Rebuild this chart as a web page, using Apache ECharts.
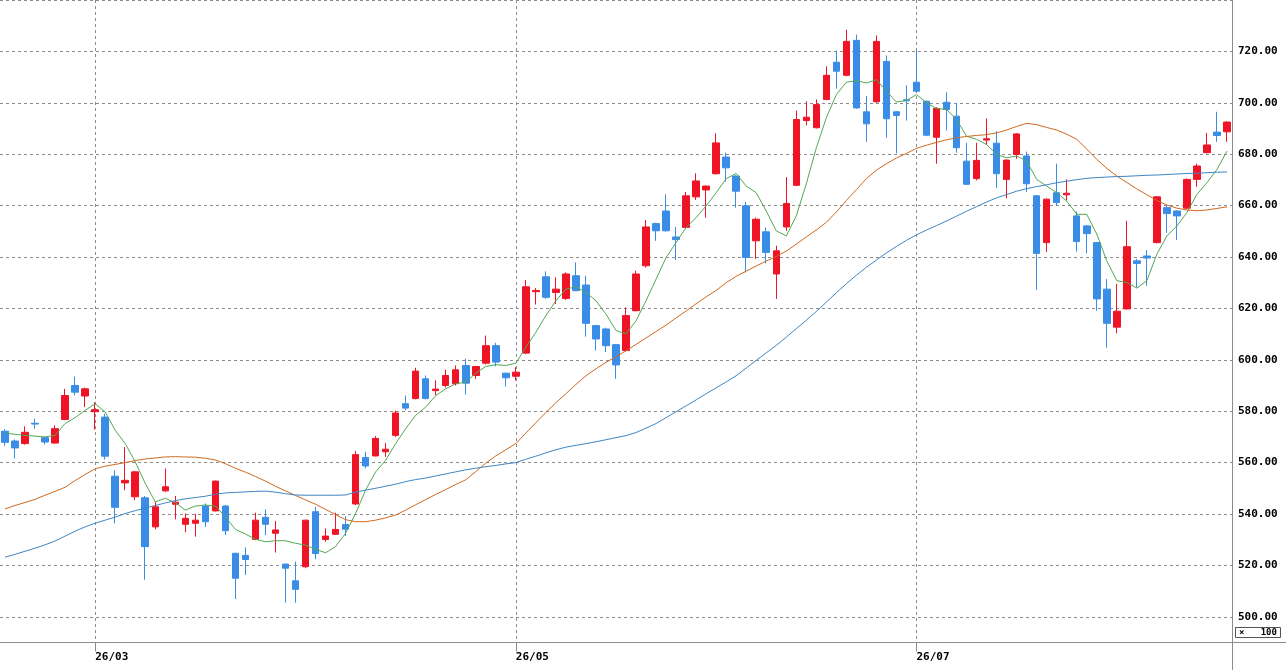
<!DOCTYPE html>
<html>
<head>
<meta charset="utf-8">
<title>日足チャート</title>
<script src="https://cdn.jsdelivr.net/npm/echarts@6/dist/echarts.min.js"></script>
<style>
html, body { margin: 0; padding: 0; background: #fff; }
#main { width: 1286px; height: 670px; }
</style>
</head>
<body>
<div id="main"></div>
<script>
// 日足 (始値・終値・安値・高値)
var openPrices = [
	572.2, 568.4, 567.4, 575.3, 569.7, 567.6, 576.8, 590.0, 585.9, 579.8,
	577.7, 554.7, 552.1, 546.7, 546.3, 535.0, 549.0, 543.8, 536.0, 536.4,
	543.1, 541.2, 543.1, 524.7, 523.9, 530.1, 538.7, 532.5, 520.5, 514.0,
	519.5, 540.9, 530.1, 532.1, 535.9, 543.9, 562.0, 562.6, 564.2, 570.6,
	582.9, 584.9, 592.6, 588.0, 590.0, 590.7, 597.8, 593.9, 598.7, 605.5,
	594.8, 593.6, 602.6, 626.5, 632.3, 626.2, 623.9, 632.7, 629.1, 613.3,
	612.0, 605.9, 603.6, 619.1, 636.6, 653.0, 657.9, 647.8, 651.5, 663.4,
	666.1, 672.4, 678.9, 671.5, 659.9, 646.3, 649.8, 633.4, 651.7, 667.9,
	693.1, 690.3, 701.3, 715.8, 710.7, 724.3, 696.5, 700.4, 716.1, 696.5,
	701.2, 708.0, 700.6, 686.6, 700.2, 694.8, 677.3, 670.5, 685.5, 684.3,
	670.2, 679.9, 679.3, 663.8, 645.6, 665.0, 664.2, 656.0, 652.1, 645.6,
	627.5, 612.7, 619.8, 638.5, 640.4, 645.6, 659.2, 657.9, 659.0, 670.2,
	680.6, 688.6, 688.7
];
var closePrices = [
	567.9, 565.7, 571.8, 575.0, 568.0, 573.2, 586.1, 587.4, 588.7, 580.6,
	562.5, 542.6, 553.1, 556.4, 527.3, 542.8, 550.6, 544.6, 538.3, 537.6,
	537.0, 552.8, 533.5, 515.0, 522.3, 537.6, 536.0, 533.8, 518.9, 510.7,
	537.6, 524.6, 531.4, 534.0, 534.1, 563.1, 558.7, 569.4, 565.2, 579.3,
	581.2, 595.6, 584.9, 588.6, 593.9, 596.1, 590.9, 597.4, 605.5, 599.1,
	593.0, 595.2, 628.4, 627.0, 624.3, 627.5, 633.4, 626.9, 614.2, 608.1,
	605.5, 598.0, 617.2, 633.4, 651.7, 650.2, 650.2, 646.8, 663.8, 669.6,
	667.6, 684.4, 674.7, 665.6, 639.8, 654.7, 641.8, 642.4, 660.8, 693.5,
	694.4, 699.3, 710.7, 712.3, 723.9, 698.0, 691.8, 723.9, 693.8, 695.1,
	700.8, 704.5, 687.4, 697.8, 697.4, 682.5, 668.3, 677.6, 686.0, 672.4,
	677.7, 687.9, 668.5, 641.4, 662.5, 661.2, 664.8, 646.0, 649.1, 623.7,
	614.2, 618.9, 644.0, 637.5, 639.6, 663.4, 656.9, 656.0, 670.2, 675.4,
	683.6, 687.3, 692.5
];
var lowPrices = [
	566.5, 561.6, 567.0, 573.2, 567.0, 567.4, 576.5, 586.1, 581.6, 572.8,
	561.2, 536.4, 549.3, 545.4, 514.4, 534.0, 548.6, 537.9, 532.9, 531.2,
	535.0, 541.0, 531.8, 506.9, 516.3, 529.8, 531.8, 525.0, 505.5, 505.5,
	518.9, 522.4, 529.2, 531.8, 531.4, 543.5, 557.7, 562.4, 562.2, 570.0,
	580.3, 584.6, 584.6, 586.1, 589.2, 590.0, 586.5, 592.6, 598.2, 597.4,
	589.6, 592.0, 602.2, 621.5, 623.7, 621.7, 623.3, 626.9, 609.0, 603.6,
	603.0, 592.6, 603.3, 618.8, 635.9, 646.3, 649.9, 638.8, 651.2, 662.2,
	655.3, 672.1, 669.3, 659.2, 634.0, 639.2, 637.5, 623.7, 650.2, 667.6,
	691.2, 690.0, 701.0, 705.5, 710.3, 697.7, 684.8, 700.0, 686.4, 680.3,
	693.1, 704.2, 687.0, 676.3, 689.2, 680.6, 668.0, 669.8, 683.6, 666.9,
	662.9, 678.2, 665.3, 627.2, 642.0, 659.9, 662.0, 642.1, 641.4, 619.1,
	604.7, 610.3, 619.5, 628.2, 628.8, 645.3, 649.5, 646.6, 658.7, 667.3,
	680.3, 684.8, 684.8
];
var highPrices = [
	573.0, 569.0, 574.1, 577.1, 569.9, 574.5, 588.7, 593.5, 589.2, 583.5,
	579.0, 557.0, 566.1, 556.8, 547.0, 544.7, 557.7, 547.0, 540.2, 540.0,
	544.1, 553.0, 543.5, 524.9, 527.0, 540.5, 541.8, 537.3, 520.7, 521.5,
	537.8, 542.8, 534.4, 540.5, 539.2, 564.5, 564.2, 570.3, 567.6, 580.3,
	586.1, 596.9, 593.9, 592.0, 596.1, 597.8, 600.4, 597.6, 609.4, 606.6,
	595.0, 597.1, 631.0, 627.9, 634.4, 632.1, 634.0, 637.9, 632.7, 613.5,
	612.5, 606.2, 620.4, 634.7, 654.4, 653.3, 664.4, 651.7, 665.3, 672.6,
	667.8, 688.1, 680.6, 671.8, 661.4, 655.3, 651.5, 644.4, 671.1, 697.0,
	700.6, 701.3, 714.2, 720.3, 728.4, 726.5, 702.6, 726.2, 718.4, 696.8,
	706.8, 720.3, 700.9, 698.3, 704.1, 700.0, 684.4, 684.4, 693.9, 689.0,
	678.0, 688.2, 681.0, 664.0, 662.8, 676.3, 670.2, 657.7, 652.4, 645.9,
	631.4, 629.5, 654.1, 639.2, 642.7, 663.7, 660.3, 658.2, 670.5, 676.3,
	688.3, 696.5, 692.8
];

// 移動平均線 (短期・中期・長期)
var maShort = [
	571.5, 571.0, 570.6, 570.3, 570.0, 570.6, 575.2, 577.5, 580.3, 582.9,
	579.7, 572.6, 567.4, 560.3, 551.9, 544.7, 546.1, 544.4, 541.5, 543.1,
	543.5, 543.1, 538.9, 534.0, 532.2, 530.2, 529.2, 529.6, 529.6, 528.6,
	527.9, 526.3, 524.9, 527.3, 532.5, 540.2, 549.3, 556.4, 560.9, 567.4,
	573.2, 578.4, 581.6, 586.1, 588.7, 590.7, 591.3, 594.8, 597.4, 598.1,
	597.8, 598.7, 604.9, 610.7, 617.2, 623.0, 627.5, 628.4, 626.2, 623.0,
	617.8, 611.4, 610.1, 615.2, 623.0, 631.4, 639.8, 645.6, 651.5, 655.3,
	659.9, 665.0, 670.5, 672.5, 667.6, 665.0, 657.9, 650.2, 648.2, 656.0,
	668.5, 682.5, 694.2, 703.2, 708.0, 708.6, 707.7, 709.0, 704.5, 700.3,
	700.9, 703.2, 700.0, 697.8, 697.4, 693.5, 687.0, 685.8, 683.8, 679.9,
	678.6, 679.3, 677.3, 670.2, 667.6, 665.0, 661.8, 656.6, 656.6, 648.9,
	638.5, 630.8, 630.1, 627.9, 630.8, 641.1, 648.2, 652.1, 657.3, 664.4,
	668.9, 674.1, 681.2
];
var maMid = [
	542.0, 543.3, 544.5, 545.7, 547.3, 548.8, 550.4, 553.0, 555.4, 557.6,
	558.6, 559.3, 560.0, 560.8, 561.4, 561.8, 562.2, 562.3, 562.2, 562.1,
	561.7, 561.0, 559.6, 557.8, 556.3, 554.6, 552.8, 550.8, 549.0, 547.2,
	545.5, 543.8, 541.8, 539.8, 537.8, 537.0, 537.0, 537.6, 538.5, 539.6,
	541.5, 543.6, 545.6, 547.6, 549.5, 551.5, 553.3, 556.5, 559.8, 562.6,
	565.0, 567.4, 571.5, 575.5, 579.5, 583.3, 586.8, 590.4, 593.8, 596.5,
	599.0, 601.2, 603.5, 606.0, 608.5, 611.0, 613.5, 616.3, 619.0, 621.8,
	624.5, 627.0, 630.0, 632.5, 634.5, 636.5, 638.4, 640.2, 642.3, 645.0,
	647.8, 650.5, 653.5, 657.5, 662.0, 666.2, 670.5, 673.8, 676.3, 678.5,
	680.3, 682.3, 683.5, 684.6, 685.6, 686.4, 686.9, 687.3, 687.6, 688.3,
	689.4, 690.8, 692.0, 691.5, 690.4, 689.4, 687.8, 685.8, 682.0, 678.0,
	674.5, 671.5, 669.0, 666.5, 664.2, 662.0, 660.2, 659.0, 658.3, 658.0,
	658.3, 658.9, 659.5
];
var maLong = [
	523.2, 524.3, 525.5, 526.7, 528.0, 529.5, 531.4, 533.3, 535.0, 536.4,
	537.6, 538.8, 540.2, 541.3, 542.3, 543.3, 544.3, 545.2, 545.9, 546.4,
	546.9, 547.7, 548.2, 548.4, 548.6, 548.8, 548.9, 548.5, 547.9, 547.4,
	547.3, 547.3, 547.3, 547.3, 547.4, 548.5, 549.3, 550.0, 550.8, 551.6,
	552.6, 553.4, 554.0, 554.8, 555.6, 556.4, 557.2, 557.8, 558.4, 558.9,
	559.5, 560.0, 561.3, 562.5, 563.8, 565.0, 566.0, 566.7, 567.4, 568.1,
	568.9, 569.7, 570.5, 571.7, 573.4, 575.2, 577.5, 579.8, 582.1, 584.4,
	586.8, 589.1, 591.4, 593.8, 596.8, 599.8, 602.7, 605.6, 608.8, 612.1,
	615.4, 618.8, 622.4, 626.1, 629.6, 632.9, 636.0, 638.8, 641.6, 644.1,
	646.5, 648.6, 650.5, 652.2, 654.0, 655.9, 657.8, 659.6, 661.4, 663.0,
	664.3, 665.6, 666.6, 667.4, 668.1, 668.9, 669.5, 670.1, 670.6, 670.9,
	671.1, 671.3, 671.4, 671.6, 671.8, 671.9, 672.1, 672.3, 672.5, 672.6,
	672.8, 673.0, 673.1
];

// 月の目盛 (ラベルと足の位置)
var monthLabels = ['26/03', '26/05', '26/07'];
var monthIndex = [9, 51, 91];

// 配色
var UP_COLOR = '#ee1426';
var DOWN_COLOR = '#3a8de6';
var GRID_COLOR = '#8c8c8c';
var LABEL_FONT = {
	fontFamily: 'DejaVu Sans Mono',
	fontWeight: 'bold',
	fontSize: 11,
	color: '#000'
};

var days = [];
var candles = [];
for (var i = 0; i < openPrices.length; i++) {
	days.push(String(i));
	candles.push([openPrices[i], closePrices[i], lowPrices[i], highPrices[i]]);
}

function isMonthStart(index) {
	return monthIndex.indexOf(index) >= 0;
}

var chart = echarts.init(document.getElementById('main'), null, { renderer: 'canvas' });

var option = {
	animation: false,
	backgroundColor: '#fff',
	grid: {
		left: 0,
		right: 54,
		top: -1.5,
		bottom: 27.5
	},
	xAxis: {
		type: 'category',
		data: days,
		boundaryGap: true,
		axisLine: { show: true, lineStyle: { color: GRID_COLOR, width: 1 } },
		axisTick: {
			show: true,
			alignWithLabel: true,
			interval: isMonthStart,
			length: 9,
			lineStyle: { color: GRID_COLOR }
		},
		axisLabel: {
			interval: isMonthStart,
			formatter: function(value) {
				var k = monthIndex.indexOf(Number(value));
				return k >= 0 ? monthLabels[k] : '';
			},
			align: 'left',
			margin: 9,
			fontFamily: LABEL_FONT.fontFamily,
			fontWeight: LABEL_FONT.fontWeight,
			fontSize: LABEL_FONT.fontSize,
			color: LABEL_FONT.color
		},
		splitLine: {
			show: true,
			alignWithLabel: true,
			interval: isMonthStart,
			lineStyle: { color: GRID_COLOR, type: [3, 3], width: 1 }
		}
	},
	yAxis: {
		type: 'value',
		position: 'right',
		scale: true,
		min: 490,
		max: 740,
		interval: 10,	//20刻みの線だけ見せる
		axisLine: { show: true, lineStyle: { color: GRID_COLOR, width: 1 } },
		axisTick: { show: false },
		axisLabel: {
			showMaxLabel: false,
			margin: 6,
			formatter: function(v) {
				return Math.round(v) % 20 === 0 ? v.toFixed(2) : '';
			},
			fontFamily: LABEL_FONT.fontFamily,
			fontWeight: LABEL_FONT.fontWeight,
			fontSize: LABEL_FONT.fontSize,
			color: LABEL_FONT.color
		},
		splitLine: {
			show: true,
			lineStyle: { color: ['rgba(0,0,0,0)', GRID_COLOR], type: [3, 3], width: 1 }
		}
	},
	series: [
		{
			name: '日足',
			type: 'candlestick',
			data: candles,
			barWidth: 7,
			z: 2,
			itemStyle: {
				color: UP_COLOR,
				color0: DOWN_COLOR,
				borderColor: UP_COLOR,
				borderColor0: DOWN_COLOR,
				borderWidth: 1
			}
		},
		{
			name: '短期線',
			type: 'line',
			data: maShort,
			symbol: 'none',
			z: 3,
			lineStyle: { color: '#52a852', width: 1 }
		},
		{
			name: '中期線',
			type: 'line',
			data: maMid,
			symbol: 'none',
			z: 3,
			lineStyle: { color: '#d0691f', width: 1 }
		},
		{
			name: '長期線',
			type: 'line',
			data: maLong,
			symbol: 'none',
			z: 3,
			lineStyle: { color: '#3f86c4', width: 1 }
		}
	],
	graphic: [
		// 枠線の延長
		{
			type: 'line',
			shape: { x1: 1232.5, y1: 640, x2: 1232.5, y2: 670 },
			style: { stroke: GRID_COLOR, lineWidth: 1 }
		},
		{
			type: 'line',
			shape: { x1: 1232, y1: 642.5, x2: 1286, y2: 642.5 },
			style: { stroke: GRID_COLOR, lineWidth: 1 }
		},
		// 単位表示
		{
			type: 'rect',
			shape: { x: 1235.5, y: 627.5, width: 45, height: 10 },
			style: { fill: '#fff', stroke: '#555', lineWidth: 1 }
		},
		{
			type: 'text',
			x: 1239,
			y: 633,
			style: {
				text: '×   100',
				fontFamily: 'DejaVu Sans Mono',
				fontWeight: 'bold',
				fontSize: 9,
				fill: '#000',
				verticalAlign: 'middle'
			}
		}
	]
};

chart.setOption(option, true);
</script>
</body>
</html>
